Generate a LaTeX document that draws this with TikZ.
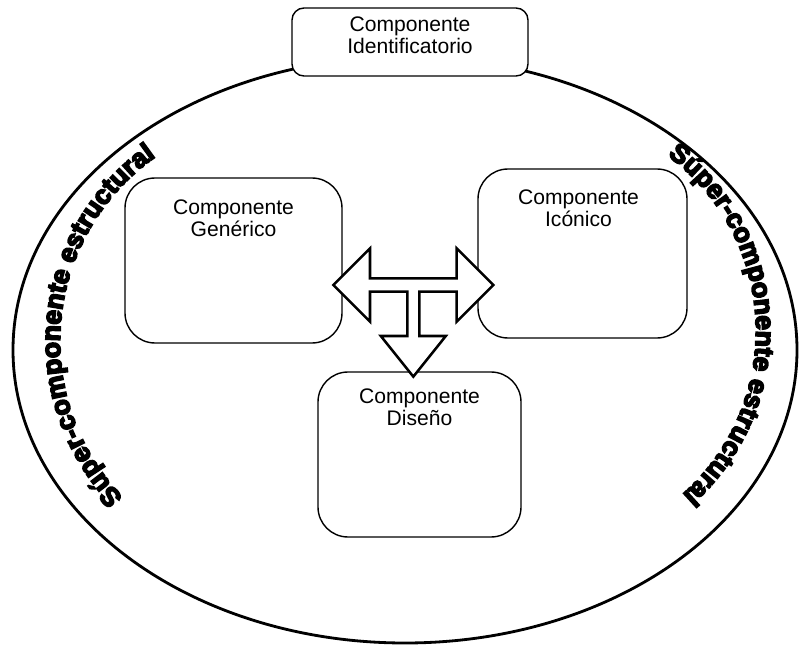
\documentclass[tikz,border=0pt]{standalone}
\usepackage{fontspec}
\setmainfont{Liberation Sans}
\newfontfamily\heavyfont{Liberation Sans}[BoldFeatures={FakeBold=6}]
\newcommand\superfont{\heavyfont\bfseries\fontsize{19}{19}\selectfont}
\usetikzlibrary{positioning,decorations.text}

\tikzset{
    compbox/.style={draw, line width=1pt, rounded corners=.75cm, fill=white},
    comptext/.style={align=center, inner sep=0pt, font=\fontsize{15}{16}\selectfont},
    supertext/.style={decorate, decoration={text along path, text align=center,
        text={|\superfont|Súper-componente estructural}}},
    arrowshape/.style={draw, line width=1.8pt, fill=white, line join=miter}
}

\begin{document}
\begin{tikzpicture}

    \useasboundingbox (0,0) rectangle (20,16.125);

    \draw[line width=2pt] (10.125,7.375) ellipse [x radius=9.8, y radius=7.325];

    % curved labels on both sides
    \path[supertext] (7.125,7.6) ++(265:5.625)
        arc[start angle=265, end angle=84, radius=5.625];
    \path[supertext] (13.45,7.85) ++(93:5.45)
        arc[start angle=93, end angle=-88, radius=5.45];

    \node[compbox, rounded corners=.3cm, minimum width=5.9cm, minimum height=1.7cm] (ident) at (10.25,15.075) {};
    \node[comptext, below=.225cm of ident.north] (identtxt) {Componente\\Identificatorio};

    \node[compbox, minimum width=5.425cm, minimum height=4.125cm] (generico) at (5.8375,9.6125) {};
    \node[comptext, below=.55cm of generico.north] (genericotxt) {Componente\\Genérico};

    \node[compbox, minimum width=5.225cm, minimum height=4.225cm] (iconico) at (14.5625,9.7875) {};
    \node[comptext, below=.525cm of iconico.north, xshift=-.1cm] (iconicotxt) {Componente\\Icónico};

    \node[compbox, minimum width=5.075cm, minimum height=4.125cm] (diseno) at (10.4875,4.7625) {};
    \node[comptext, below=.425cm of diseno.north] (disenotxt) {Componente\\Diseño};

    % three-way block arrow
    \coordinate (hub) at (10.333,9);
    \draw[arrowshape, shift={(hub)}] (-2,0) -- (-1.083,.917) -- (-1.083,.167) -- (1.083,.167)
        -- (1.083,.917) -- (2,0) -- (1.083,-.917) -- (1.083,-.167) -- (.15,-.167)
        -- (.15,-1.275) -- (.8125,-1.275) -- (0,-2.292) -- (-.8125,-1.275) -- (-.15,-1.275)
        -- (-.15,-.167) -- (-1.083,-.167) -- (-1.083,-.917) -- cycle;

\end{tikzpicture}
\end{document}
